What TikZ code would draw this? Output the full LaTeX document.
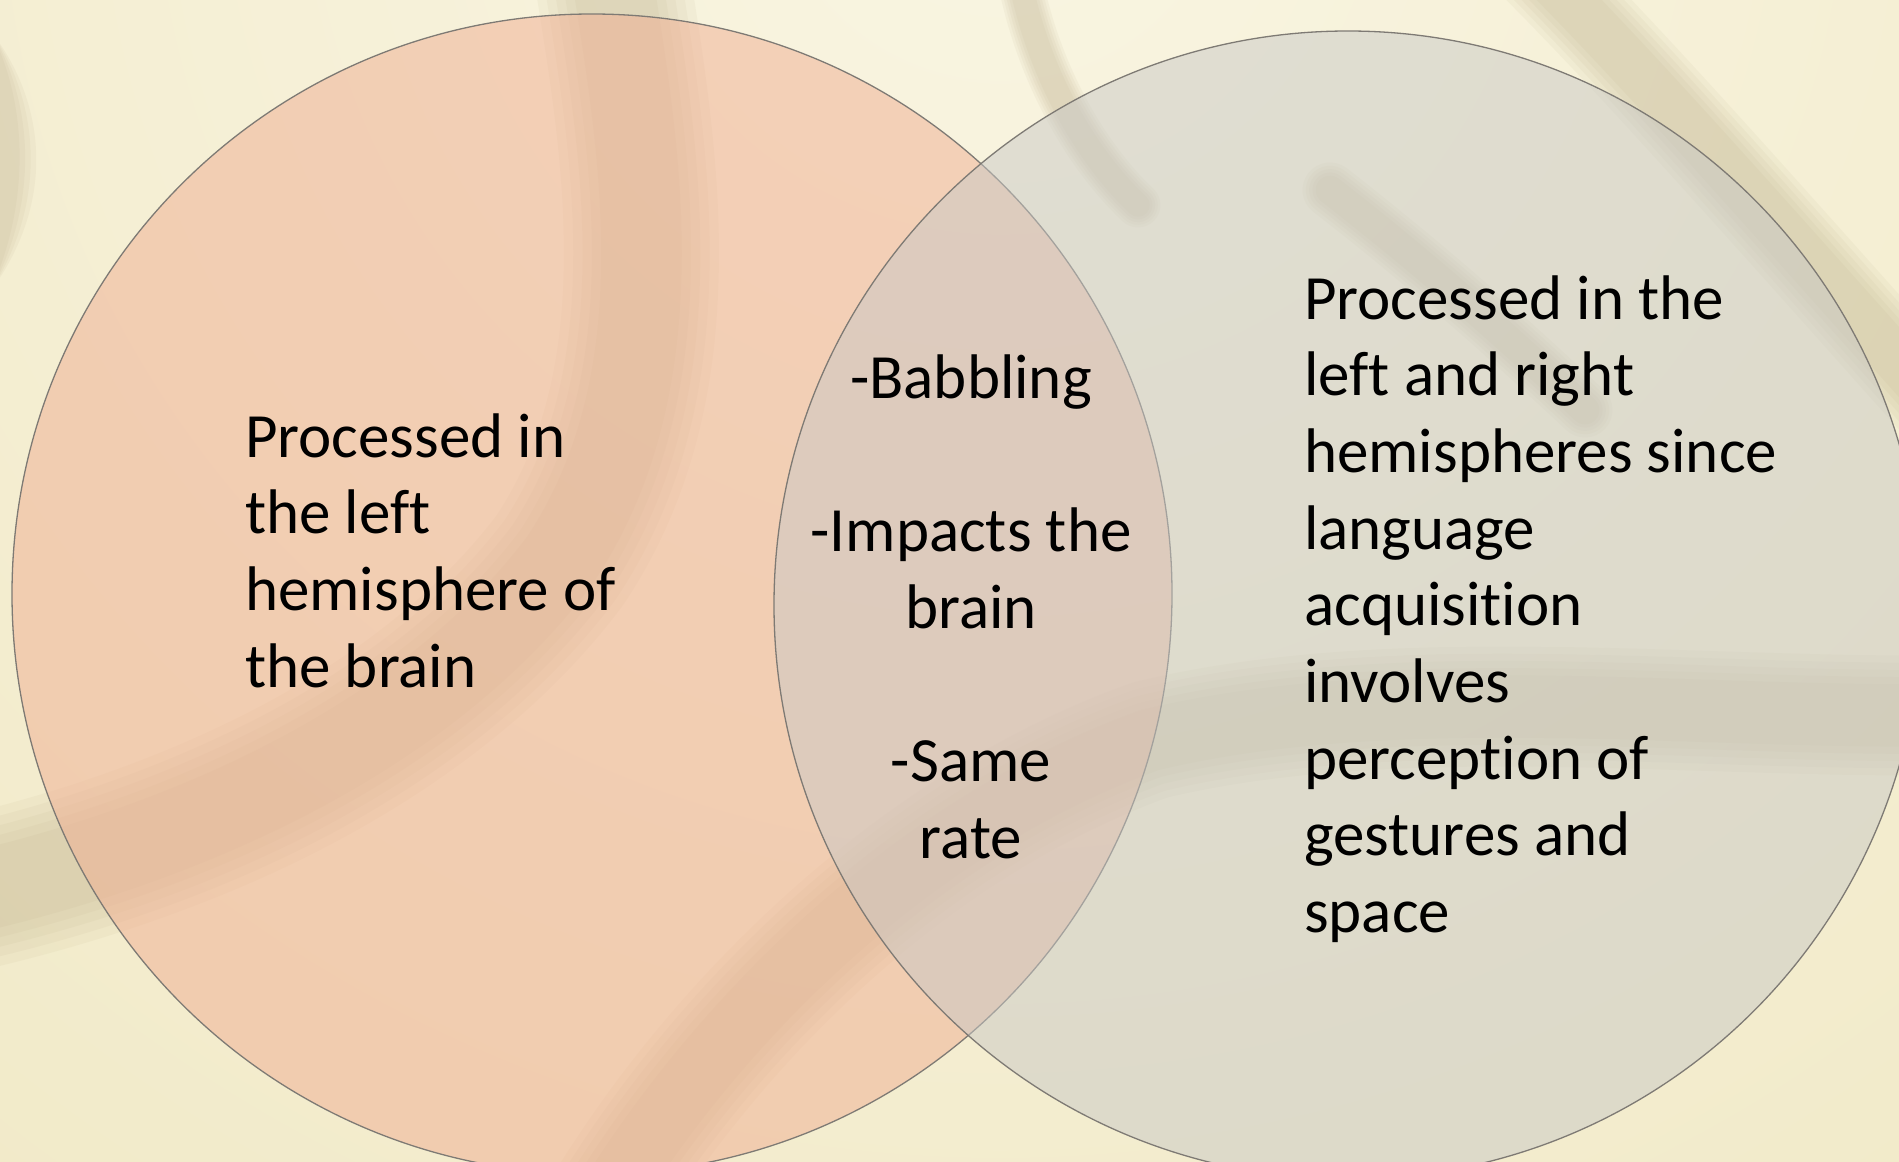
\documentclass[tikz,border=0pt]{standalone}
\usepackage{fontspec}
\setmainfont{Carlito}[Ligatures={NoCommon,NoRequired,NoContextual}]
\definecolor{bgBase}{HTML}{F0E8C4}
\definecolor{bgLight}{HTML}{F9F5E2}
\definecolor{swirlC}{HTML}{A89870}
\definecolor{leftC}{HTML}{F0AE92}
\definecolor{rightC}{HTML}{C9C9C6}
\definecolor{ringC}{HTML}{7E7A74}
\tikzset{
  swirlband/.style={draw=swirlC, line cap=round, line join=round, draw opacity=0.065},
  swirlpatch/.style={fill=swirlC, fill opacity=0.07},
  vennset/.style={circle, draw=ringC, line width=1.3pt, fill opacity=0.5, inner sep=0pt, outer sep=0pt},
  vtext/.style={inner sep=0pt, text=black, font=\fontsize{63}{76.7}\selectfont},
}
% soft brush band: the same path stroked five times, narrowing
\newcommand\softband[2]{%
  \foreach \k in {1.0,0.88,0.76,0.64,0.52}{%
    \draw[swirlband, line width=\k*#1pt] #2;}}
\begin{document}
\begin{tikzpicture}[x=1pt,y=-1pt]
\useasboundingbox (0,0) rectangle (1899,1162);
\begin{scope}
\clip (0,0) rectangle (1899,1162);
% backdrop
\fill[bgBase] (0,0) rectangle (1899,1162);
\shade[inner color=bgLight, outer color=bgBase] (1000,-150) circle [radius=2000pt];
% brush strokes of the backdrop
\softband{155}{(611,-30) .. controls (640,150) and (680,380) .. (560,560) .. controls (440,720) and (220,840) .. (-60,900)}
\softband{120}{(590,1230) .. controls (700,1040) and (900,830) .. (1150,740) .. controls (1400,680) and (1700,720) .. (1960,715)}
\softband{90}{(1530,-40) .. controls (1650,80) and (1780,230) .. (1960,430)}
\softband{45}{(1020,-20) .. controls (1040,80) and (1090,160) .. (1138,205)}
\softband{55}{(1330,190) .. controls (1420,260) and (1500,330) .. (1585,410)}
\foreach \s in {1.0,0.85,0.7,0.55}{%
  \fill[swirlpatch] (-10,30) .. controls (40*\s+5,100) and (58*\s,200) .. (-10,292) -- cycle;}
% the two sets
\node[vennset, fill=leftC, minimum size=1160pt] (leftset) at (592,594) {};
\node[vennset, fill=rightC, minimum size=1148pt] (rightset) at (1348,605) {};
\end{scope}
% texts
\node[vtext, anchor=base west] (lefttext) at (245,457)
  {\parbox[t]{440pt}{\raggedright Processed in\\the left\\hemisphere of\\the brain}};
\node[vtext, anchor=base] (midtext) at (971,398)
  {\parbox[t]{420pt}{\centering -Babbling\\\mbox{}\\-Impacts the\\brain\\\mbox{}\\-Same\\rate}};
\node[vtext, anchor=base west] (righttext) at (1304,319)
  {\parbox[t]{560pt}{\raggedright Processed in the\\left and right\\hemispheres since\\language\\acquisition\\involves\\perception of\\gestures and\\space}};
\end{tikzpicture}
\end{document}
